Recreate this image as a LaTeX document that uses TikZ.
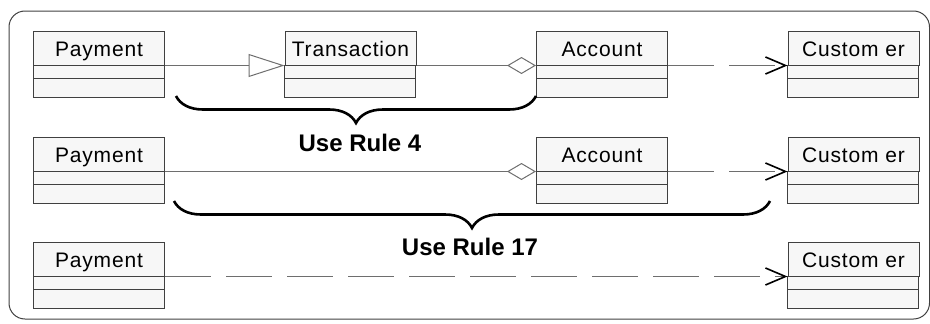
\documentclass[tikz,border=0pt]{standalone}
\usepackage{fontspec}
\setmainfont{Liberation Sans}
\newfontfamily\boxfont[LetterSpace=4]{Liberation Sans}
\usetikzlibrary{arrows.meta,decorations.pathreplacing,calc}

\definecolor{boxfill}{HTML}{F7F7F7}
\definecolor{boxline}{HTML}{404040}
\definecolor{linkgray}{HTML}{6E6E6E}

\tikzset{
  classname/.style={draw=boxline, fill=boxfill, line width=1pt, minimum width=131pt,
    minimum height=34pt, inner sep=0pt, text height=17pt, text depth=0pt,
    font=\boxfont\fontsize{21}{25}\selectfont},
  compart/.style={draw=boxline, fill=boxfill, line width=1pt},
  link/.style={draw=linkgray, line width=1pt},
  dashlink/.style={link, dash pattern=on 46pt off 15pt},
  inherits/.style={-{Triangle[open, length=36pt, width=23pt, line width=1pt]}},
  aggregates/.style={-{Diamond[open, length=29pt, width=17pt, line width=1pt]}},
  uses/.style={-{Straight Barb[length=20pt, width=17pt, line width=1.6pt, color=black]}},
  rulebrace/.style={decorate, decoration={brace, mirror, amplitude=27pt}, line width=2.6pt},
  rulelabel/.style={font=\bfseries\fontsize{24}{28}\selectfont}
}

% a class box with two empty compartments under its name
\newcommand{\classbox}[4]{%
  \node[classname] (#1) at (#2,#3) {#4};
  \draw[compart] (#1.south west) rectangle ++(131,13);
  \draw[compart] ($(#1.south west)+(0,13)$) rectangle ++(131,19);
}

\begin{document}
\begin{tikzpicture}[x=1pt, y=-1pt]
  \useasboundingbox (0,0) rectangle (930,324);
  % outer frame
  \draw[boxline, line width=1pt, rounded corners=16pt] (9,11) rectangle (929.5,319);

  % first row
  \classbox{pay1}{99}{48}{Payment}
  \classbox{trans1}{350.5}{48}{Transaction}
  \classbox{acct1}{602}{48}{Account}
  \classbox{cust1}{853.5}{48}{Custom er}
  \draw[link, inherits] (pay1.south east) -- (trans1.south west);
  \draw[link, aggregates] (trans1.south east) -- (acct1.south west);
  \draw[dashlink, uses] (acct1.south east) -- (cust1.south west);

  % second row
  \classbox{pay2}{99}{154}{Payment}
  \classbox{acct2}{602}{154}{Account}
  \classbox{cust2}{853.5}{154}{Custom er}
  \draw[link, aggregates] (pay2.south east) -- (acct2.south west);
  \draw[dashlink, uses] (acct2.south east) -- (cust2.south west);

  % third row
  \classbox{pay3}{99}{259}{Payment}
  \classbox{cust3}{853.5}{259}{Custom er}
  \draw[dashlink, uses] (pay3.south east) -- (cust3.south west);

  % braces and rule labels
  \draw[rulebrace] (176,96) -- (536,96);
  \node[rulelabel] (rule4) at (360,143) {Use Rule 4};
  \draw[rulebrace] (174,201) -- (770,201);
  \node[rulelabel] (rule17) at (470,247) {Use Rule 17};
\end{tikzpicture}
\end{document}
